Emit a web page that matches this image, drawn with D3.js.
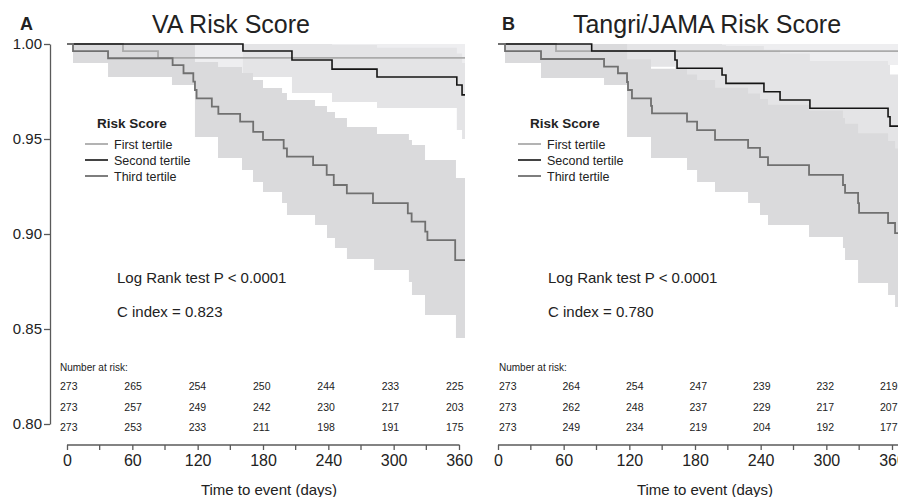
<!DOCTYPE html>
<html>
<head>
<meta charset="utf-8">
<script src="https://cdn.jsdelivr.net/npm/d3@7"></script>
<style>
  body { margin: 0; background: #fff; }
  svg { font-family: "Liberation Sans", Arial, sans-serif; }
  text { fill: #222; }
  .axis path, .axis line { stroke: #5a5a5a; stroke-width: 1.3; }
  .axis text { fill: #222; }
</style>
</head>
<body>
<svg width="898" height="497"></svg>
<script>
// ---- data ----
var tickDays = [0, 60, 120, 180, 240, 300, 360];
var minorDays = [30, 90, 150, 210, 270, 330];
var yTicks = [0.80, 0.85, 0.90, 0.95, 1.00];
var endDay = 365.5;
var seriesNames = ['First tertile', 'Second tertile', 'Third tertile'];

// VA risk score (panel A)
var vaFirstT = [0, 51.4, 83.6];
var vaFirstS = [1, 0.9963, 0.9927];
var vaFirstLo = [1, 0.99, 0.9826];
var vaFirstHi = [1, 1, 1];

var vaSecondT = [0, 161.6, 206.6, 243.4, 284.7, 358, 362.8];
var vaSecondS = [1, 0.9963, 0.9916, 0.9868, 0.9826, 0.9784, 0.9732];
var vaSecondLo = [1, 0.9826, 0.9742, 0.9695, 0.9663, 0.9547, 0.95];
var vaSecondHi = [1, 1, 1, 0.9995, 0.998, 0.995, 0.99];

var vaThirdT = [0, 5.5, 37.7, 97, 107, 116, 117.5, 119, 133, 139, 159, 171, 180, 199, 202, 226, 238.5, 245, 257, 281, 313, 316.5, 329, 331, 356.5];
var vaThirdS = [1, 0.9963, 0.9925, 0.9889, 0.9846, 0.9802, 0.9758, 0.9714, 0.967, 0.9632, 0.9591, 0.9538, 0.9495, 0.9451, 0.9407, 0.9363, 0.9311, 0.9258, 0.9214, 0.9162, 0.9109, 0.9065, 0.9012, 0.8968, 0.8863];
var vaThirdBandT = [0, 5.5, 37.7, 96.4, 117.5, 138.7, 160.7, 170.8, 180, 197.5, 202, 227.8, 238.8, 246.1, 257.1, 282, 284.7, 314, 316.8, 328.8, 357.2];
var vaThirdLo = [1, 0.99, 0.9826, 0.9784, 0.951, 0.94, 0.9337, 0.9274, 0.9221, 0.9163, 0.91, 0.9047, 0.8979, 0.8926, 0.8868, 0.8811, 0.8811, 0.8747, 0.8679, 0.8574, 0.8453];
var vaThirdHi = [1, 1, 1, 1, 0.9905, 0.9879, 0.9847, 0.9811, 0.9768, 0.9742, 0.9705, 0.9674, 0.9642, 0.9611, 0.9563, 0.9563, 0.9526, 0.9495, 0.9468, 0.939, 0.9295];

var vaRisk = [[273, 265, 254, 250, 244, 233, 225],
              [273, 257, 249, 242, 230, 217, 203],
              [273, 253, 233, 211, 198, 191, 175]];

// Tangri/JAMA risk score (panel B)
var tgFirstT = [0, 53];
var tgFirstS = [1, 0.9963];
var tgFirstLo = [1, 0.989];
var tgFirstHi = [1, 1];

var tgSecondT = [0, 85.6, 161.7, 163.6, 204.7, 208.3, 243, 257.7, 285, 356.4, 358.2];
var tgSecondS = [1, 0.9963, 0.9916, 0.9872, 0.9837, 0.9793, 0.9749, 0.9705, 0.9662, 0.9617, 0.9568];
var tgSecondLo = [1, 0.988, 0.979, 0.973, 0.968, 0.963, 0.958, 0.953, 0.948, 0.943, 0.936];
var tgSecondHi = [1, 1, 1, 1, 0.9995, 0.999, 0.997, 0.995, 0.991, 0.989, 0.984];

var tgThirdT = [0, 6.4, 39.3, 96.9, 109.6, 117.9, 118.8, 122.4, 139.8, 140.7, 172.7, 181.9, 198.3, 228.5, 239.4, 246.7, 284.2, 315.2, 317.1, 329, 329.9, 356.4, 362.8];
var tgThirdS = [1, 0.9963, 0.9921, 0.9881, 0.9846, 0.98, 0.9758, 0.9714, 0.9674, 0.9635, 0.9591, 0.9547, 0.9495, 0.9453, 0.9405, 0.9363, 0.9311, 0.9258, 0.9216, 0.9163, 0.9111, 0.9058, 0.9005];
var tgThirdBandT = [0, 6.4, 39.3, 96.9, 117.9, 139.8, 172.7, 181.9, 198.3, 228.5, 239.4, 246.7, 284.2, 315.2, 317.1, 329, 356.4, 362.8];
var tgThirdLo = [1, 0.99, 0.9821, 0.9784, 0.951, 0.94, 0.9337, 0.9274, 0.9221, 0.9163, 0.91, 0.9047, 0.8984, 0.8926, 0.8863, 0.8742, 0.8679, 0.8616];
var tgThirdHi = [1, 1, 1, 1, 0.992, 0.987, 0.984, 0.981, 0.977, 0.974, 0.971, 0.968, 0.965, 0.961, 0.958, 0.953, 0.949, 0.945];

var tgRisk = [[273, 264, 254, 247, 239, 232, 219],
              [273, 262, 248, 237, 229, 217, 207],
              [273, 249, 234, 219, 204, 192, 177]];

// ---- styles ----
var lineColors = ['#ababab', '#151515', '#707070'];
var bandColors = ['#eeeef0', '#e4e4e6', '#dadadc'];

var svg = d3.select('svg');

var y = d3.scaleLinear().domain([0.8, 1.0]).range([424, 44]);

// build step points, extended to the last follow-up day
function steps(t, v) {
    var pts = t.map(function(d, i) { return {t: d, v: v[i]}; });
    pts.push({t: endDay, v: v[v.length - 1]});
    return pts;
}
function bandSteps(t, lo, hi) {
    var pts = t.map(function(d, i) { return {t: d, lo: lo[i], hi: hi[i]}; });
    pts.push({t: endDay, lo: lo[lo.length - 1], hi: hi[hi.length - 1]});
    return pts;
}

function drawPanel(p) {
    var x = d3.scaleLinear().domain([0, 360]).range(p.xRange);
    var tableX = d3.scaleLinear().domain([0, 360]).range(p.tableRange);
    var g = svg.append('g');

    var area = d3.area().curve(d3.curveStepAfter)
        .x(function(d) { return x(d.t); })
        .y0(function(d) { return y(d.lo); })
        .y1(function(d) { return y(d.hi); });
    var line = d3.line().curve(d3.curveStepAfter)
        .x(function(d) { return x(d.t); })
        .y(function(d) { return y(d.v); });

    // confidence bands
    p.bands.forEach(function(b, i) {
        g.append('path')
            .attr('d', area(bandSteps(b.t, b.lo, b.hi)))
            .attr('fill', bandColors[i]);
    });

    // survival curves
    p.curves.forEach(function(c, i) {
        g.append('path')
            .attr('d', line(steps(c.t, c.s)))
            .attr('fill', 'none')
            .attr('stroke', lineColors[i])
            .attr('stroke-width', i === 1 ? 1.6 : 1.8);
    });

    // y axis (panel A only)
    if (p.yAxis) {
        g.append('g')
            .attr('class', 'axis')
            .attr('transform', 'translate(' + p.yAxisX + ',0)')
            .call(d3.axisLeft(y).tickValues(yTicks).tickFormat(d3.format('.2f'))
                .tickSize(6).tickSizeOuter(0).tickPadding(2))
            .selectAll('text').style('font-size', '15px');
    }

    // x axis
    var xa = g.append('g')
        .attr('class', 'axis')
        .attr('transform', 'translate(0,445)');
    xa.call(d3.axisBottom(x).tickValues(tickDays).tickFormat(d3.format('d'))
            .tickSize(5).tickSizeOuter(0).tickPadding(5))
        .selectAll('text').style('font-size', '16px');
    xa.select('.domain').attr('d', 'M' + x(0) + ',0H' + x(p.axisEnd));
    xa.selectAll('.minor').data(minorDays).enter()
        .append('line')
        .attr('class', 'minor')
        .attr('x1', function(d) { return x(d); })
        .attr('x2', function(d) { return x(d); })
        .attr('y1', 0).attr('y2', 5);

    g.append('text')
        .attr('x', p.xTitleX).attr('y', 495)
        .attr('text-anchor', 'middle')
        .style('font-size', '15px')
        .text('Time to event (days)');

    // titles
    g.append('text')
        .attr('x', p.letterX).attr('y', 30)
        .style('font-size', '18px').style('font-weight', 'bold')
        .text(p.letter);
    g.append('text')
        .attr('x', p.titleX).attr('y', 33)
        .attr('text-anchor', 'middle')
        .style('font-size', '25px')
        .text(p.title);

    // legend
    var lg = g.append('g').attr('transform', 'translate(' + p.legendX + ',0)');
    lg.append('text')
        .attr('x', 12).attr('y', 128)
        .style('font-size', '13.5px').style('font-weight', 'bold')
        .text('Risk Score');
    seriesNames.forEach(function(name, i) {
        var yy = 144 + i * 16;
        lg.append('line')
            .attr('x1', 0).attr('x2', 23)
            .attr('y1', yy).attr('y2', yy)
            .attr('stroke', lineColors[i])
            .attr('stroke-width', i === 1 ? 1.6 : 1.8);
        lg.append('text')
            .attr('x', 29).attr('y', yy + 4.5)
            .style('font-size', '12.5px')
            .text(name);
    });

    // statistics
    g.append('text')
        .attr('x', p.statX).attr('y', 283)
        .style('font-size', '15px')
        .text('Log Rank test P < 0.0001');
    g.append('text')
        .attr('x', p.statX).attr('y', 317)
        .style('font-size', '15px')
        .text('C index = ' + p.cIndex);

    // number at risk
    g.append('text')
        .attr('x', p.tableRange[0]).attr('y', 371)
        .style('font-size', '10px')
        .text('Number at risk:');
    p.risk.forEach(function(row, r) {
        g.selectAll('.risk' + r).data(row).enter()
            .append('text')
            .attr('x', function(d, i) { return tableX(tickDays[i]); })
            .attr('y', 390 + r * 20.5)
            .style('font-size', '10.5px')
            .text(function(d) { return d; });
    });
}

drawPanel({
    letter: 'A', letterX: 20, title: 'VA Risk Score', titleX: 231,
    xRange: [67, 459], tableRange: [60, 446], axisEnd: 360.5,
    yAxis: true, yAxisX: 50, xTitleX: 269,
    legendX: 85, statX: 117, cIndex: '0.823',
    curves: [{t: vaFirstT, s: vaFirstS}, {t: vaSecondT, s: vaSecondS}, {t: vaThirdT, s: vaThirdS}],
    bands: [{t: vaFirstT, lo: vaFirstLo, hi: vaFirstHi},
            {t: vaSecondT, lo: vaSecondLo, hi: vaSecondHi},
            {t: vaThirdBandT, lo: vaThirdLo, hi: vaThirdHi}],
    risk: vaRisk
});

drawPanel({
    letter: 'B', letterX: 502, title: 'Tangri/JAMA Risk Score', titleX: 707,
    xRange: [498, 892], tableRange: [499, 880], axisEnd: 370,
    yAxis: false, xTitleX: 705,
    legendX: 518, statX: 548, cIndex: '0.780',
    curves: [{t: tgFirstT, s: tgFirstS}, {t: tgSecondT, s: tgSecondS}, {t: tgThirdT, s: tgThirdS}],
    bands: [{t: tgFirstT, lo: tgFirstLo, hi: tgFirstHi},
            {t: tgSecondT, lo: tgSecondLo, hi: tgSecondHi},
            {t: tgThirdBandT, lo: tgThirdLo, hi: tgThirdHi}],
    risk: tgRisk
});
</script>
</body>
</html>
